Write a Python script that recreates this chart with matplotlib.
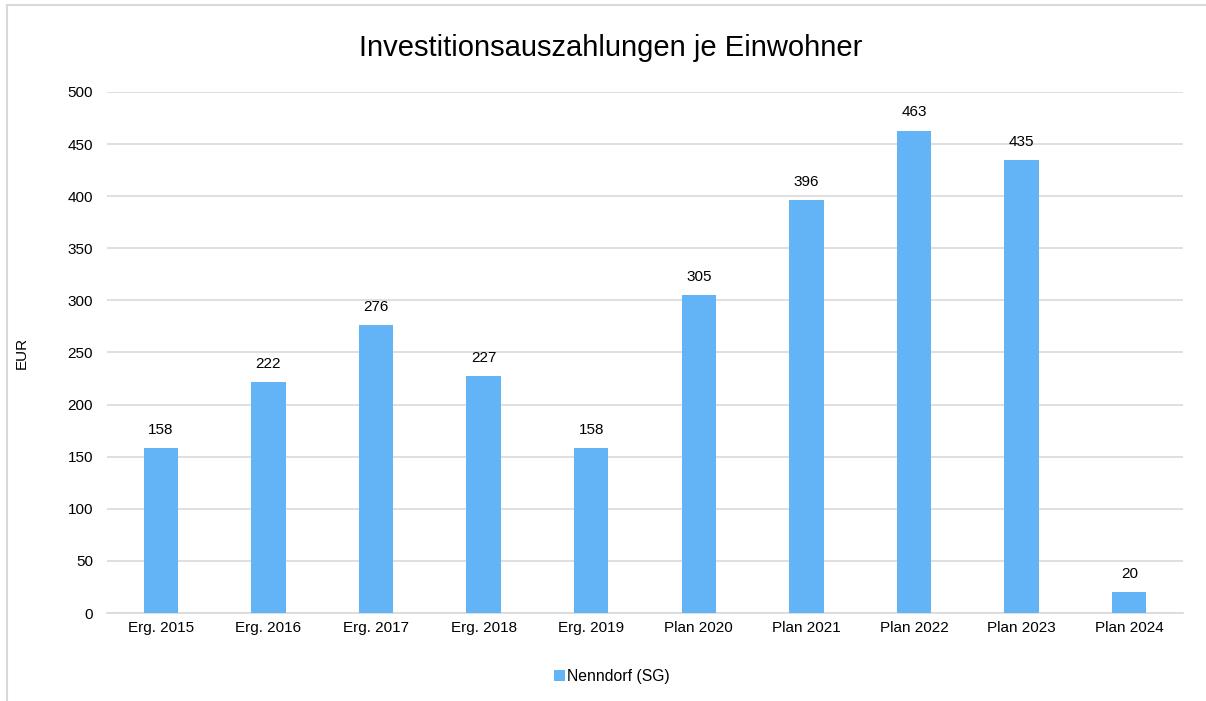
import matplotlib.pyplot as plt
from matplotlib.lines import Line2D

categories = ['Erg. 2015', 'Erg. 2016', 'Erg. 2017', 'Erg. 2018', 'Erg. 2019',
              'Plan 2020', 'Plan 2021', 'Plan 2022', 'Plan 2023', 'Plan 2024']
values = [158, 222, 276, 227, 158, 305, 396, 463, 435, 20]
series_name = 'Nenndorf (SG)'
y_ticks = list(range(0, 501, 50))

plt.rcParams['font.family'] = ['Liberation Sans', 'DejaVu Sans']

fig = plt.figure(figsize=(12.06, 7.01), dpi=100)
ax = fig.add_axes([0.0887, 0.1255, 0.8923, 0.7433])

bar_color = '#63B4F6'
x = list(range(len(categories)))
bars = ax.bar(x, values, width=0.32, color=bar_color, label=series_name, zorder=3)

# value labels above bars
for xi, v in zip(x, values):
    ax.annotate(str(v), (xi, v), xytext=(0, 8), textcoords='offset points',
                ha='center', va='bottom', fontsize=11, color='#000000')

ax.set_xlim(-0.5, len(categories) - 0.5)
ax.set_ylim(0, 500)
ax.set_yticks(y_ticks)
ax.set_xticks(x)
ax.set_xticklabels(categories)
ax.tick_params(axis='both', length=0, labelsize=11, colors='#000000')
ax.tick_params(axis='y', pad=10)
ax.tick_params(axis='x', pad=6)
ax.grid(axis='y', color='#D9D9D9', linewidth=1.2, zorder=0)
for s in ['top', 'right', 'left']:
    ax.spines[s].set_visible(False)
ax.spines['bottom'].set_color('#D9D9D9')
ax.spines['bottom'].set_linewidth(1.2)

ax.set_ylabel('EUR', fontsize=11)
ax.yaxis.set_label_coords(-0.073, 0.5)

fig.suptitle('Investitionsauszahlungen je Einwohner', fontsize=21, y=0.952, x=0.506)

fig.legend(handles=[bars], labels=[series_name], loc='center', bbox_to_anchor=(0.5075, 0.035),
           frameon=False, fontsize=11.3, handlelength=0.7, handleheight=0.7,
           handletextpad=0.1)

# chart frame (only left and top edges visible)
fig.add_artist(Line2D([7 / 1206, 7 / 1206], [0, 1 - 5 / 701], color='#D9D9D9', linewidth=1.5))
fig.add_artist(Line2D([7 / 1206, 1], [1 - 5 / 701, 1 - 5 / 701], color='#D9D9D9', linewidth=1.5))

fig.savefig('out.png', dpi=100)
